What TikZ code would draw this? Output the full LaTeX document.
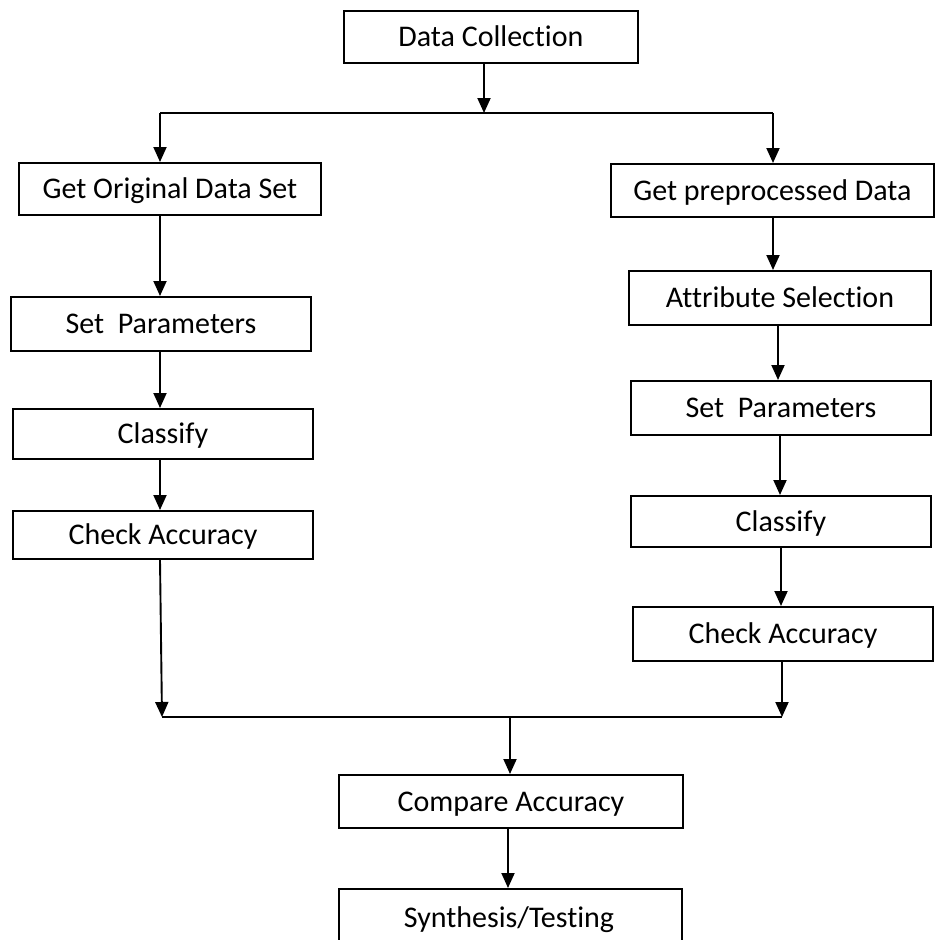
\documentclass[tikz,border=0pt]{standalone}
\usepackage{fontspec}
\setmainfont{Carlito}[Ligatures={NoCommon}]
\usetikzlibrary{arrows.meta}
\begin{document}
\begin{tikzpicture}[x=1pt,y=-1pt,
  box/.style={draw, line width=1.9pt, inner sep=0pt, text height=20pt, text depth=0pt, font=\fontsize{30}{33}\selectfont},
  arr/.style={line width=1.9pt, -{Triangle[length=15pt,width=13pt]}},
  ln/.style={line width=1.9pt}]
\useasboundingbox (0,0) rectangle (936,940);
% boxes defined by corners
\newcommand{\bx}[6]{\node[box, anchor=north west, minimum width=#4-#2, minimum height=#5-#3] (#1) at (#2,#3) {#6};}
\bx{dc}{343}{10}{637}{62}{Data Collection}
\bx{god}{18}{162}{320}{214}{Get Original Data Set}
\bx{gpd}{610}{163}{933}{216}{Get preprocessed Data}
\bx{spl}{10}{296}{310}{350}{Set\ \ Parameters}
\bx{cll}{12}{408}{312}{458}{Classify}
\bx{cal}{12}{510}{312}{558}{Check Accuracy}
\bx{as}{628}{270}{930}{324}{Attribute Selection}
\bx{spr}{630}{380}{930}{434}{Set\ \ Parameters}
\bx{clr}{630}{495}{930}{546}{Classify}
\bx{car}{632}{606}{932}{660}{Check Accuracy}
\bx{ca}{338}{774}{682}{827}{Compare Accuracy}
\node[box, anchor=north west, minimum width=343, minimum height=70] (st) at (338,888) {};
\node[font=\fontsize{30}{33}\selectfont, text height=20pt, text depth=0pt, inner sep=0pt] (stt) at (509,917) {Synthesis/Testing};
% top split
\coordinate (j1) at (484,113);
\coordinate (jl) at (160,113);
\coordinate (jr) at (773,113);
\draw[arr] (dc.south -| j1) -- (j1);
\draw[ln] (jl) -- (jr);
\draw[arr] (jl) -- (jl |- god.north);
\draw[arr] (jr) -- (jr |- gpd.north);
% left chain
\coordinate (lx) at (160,0);
\draw[arr] (god.south -| lx) -- (spl.north -| lx);
\draw[arr] (spl.south -| lx) -- (cll.north -| lx);
\draw[arr] (cll.south -| lx) -- (cal.north -| lx);
% right chain
\draw[arr] (gpd.south -| jr) -- (as.north -| jr);
\coordinate (r2) at (778,0);
\coordinate (r3) at (780,0);
\coordinate (r4) at (781,0);
\coordinate (r5) at (782,0);
\draw[arr] (as.south -| r2) -- (spr.north -| r2);
\draw[arr] (spr.south -| r3) -- (clr.north -| r3);
\draw[arr] (clr.south -| r4) -- (car.north -| r4);
% join
\coordinate (kl) at (162,717);
\coordinate (kr) at (782,717);
\coordinate (km) at (510,717);
\draw[arr] (cal.south -| 160,0) -- (kl);
\draw[arr] (car.south -| r5) -- (kr);
\draw[ln] (kl) -- (kr);
\draw[arr] (km) -- (ca.north -| km);
\coordinate (bm) at (508,0);
\draw[arr] (ca.south -| bm) -- (st.north -| bm);
\end{tikzpicture}
\end{document}
